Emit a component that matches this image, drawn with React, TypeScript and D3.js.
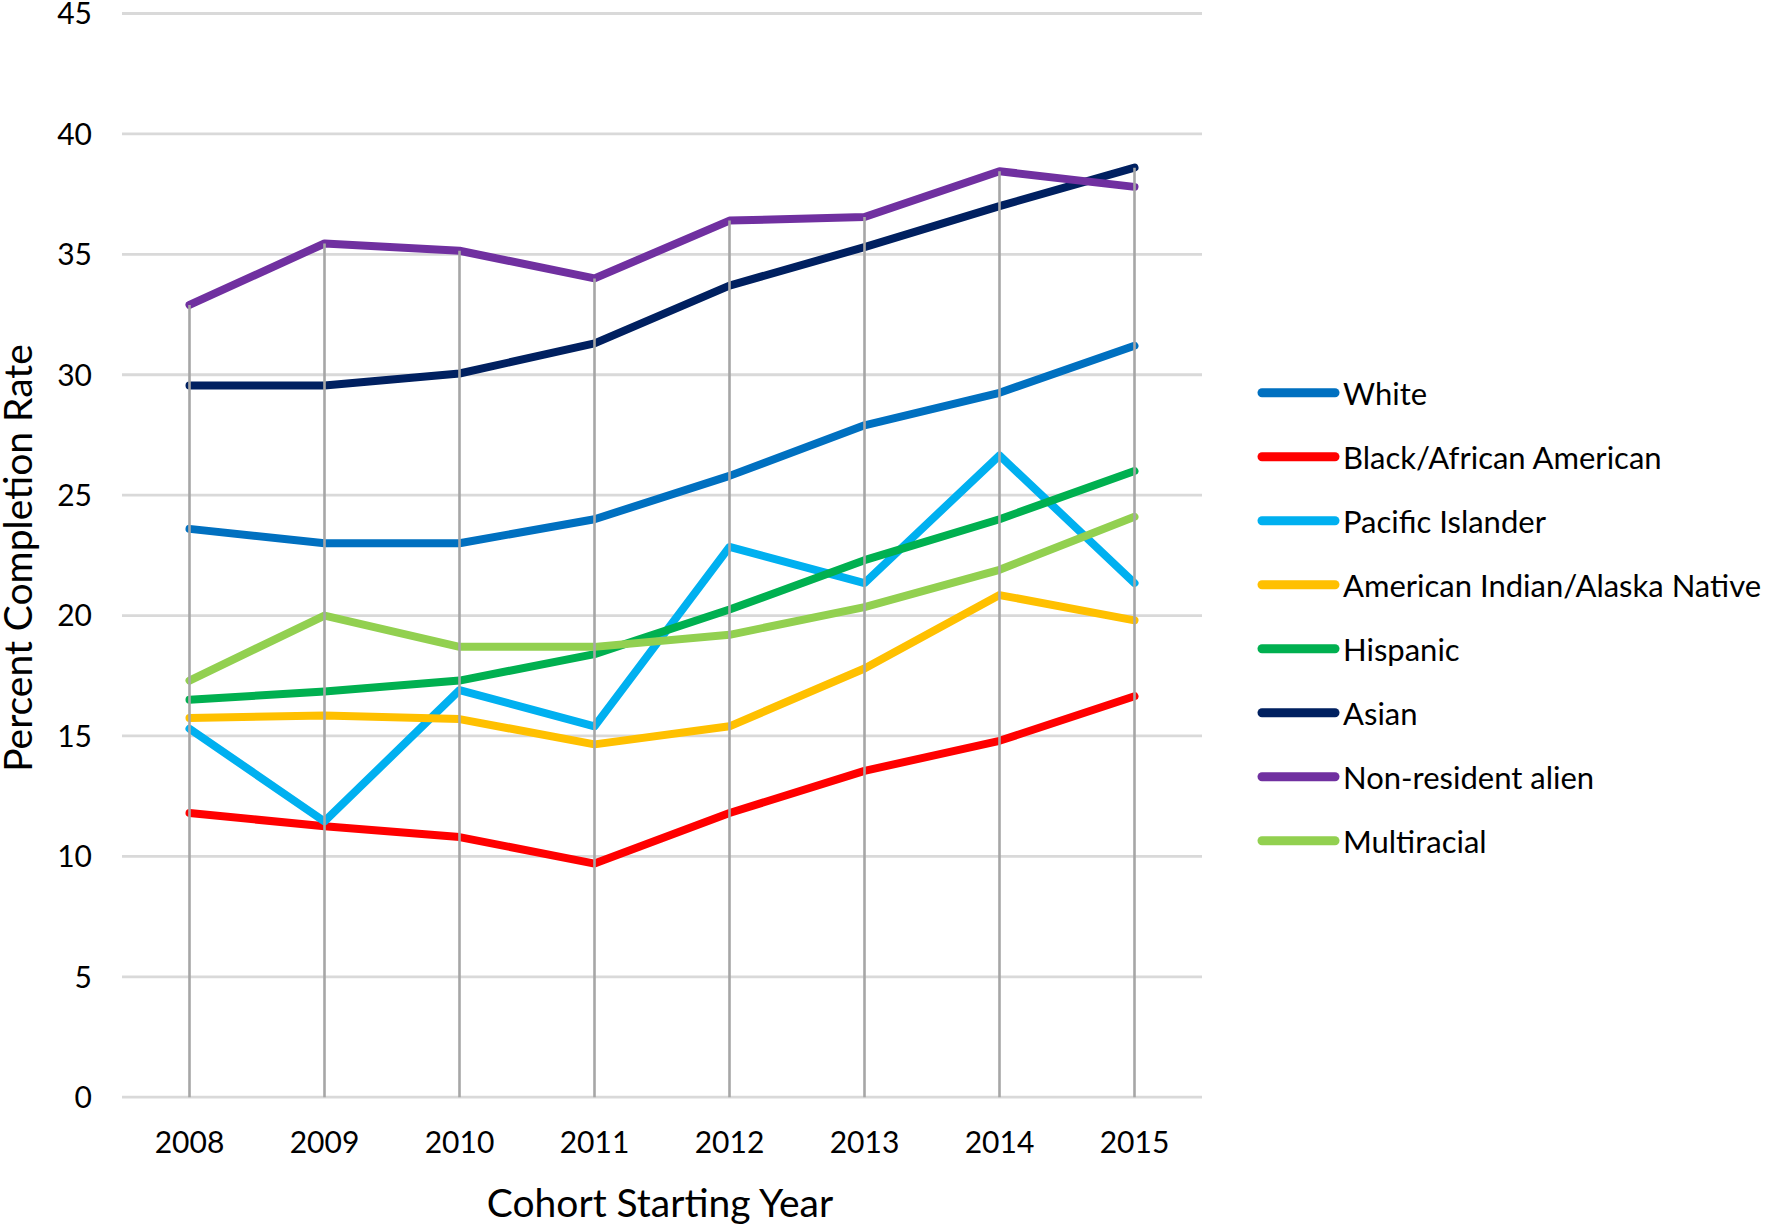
import React from "react";
import * as d3 from "d3";

const years = ["2008", "2009", "2010", "2011", "2012", "2013", "2014", "2015"];
const yTicks = [0, 5, 10, 15, 20, 25, 30, 35, 40, 45];

const white = [23.6, 23.0, 23.0, 24.0, 25.8, 27.9, 29.25, 31.2];
const black = [11.8, 11.25, 10.8, 9.7, 11.8, 13.55, 14.8, 16.65];
const pacific = [15.3, 11.45, 16.9, 15.4, 22.85, 21.35, 26.65, 21.35];
const amIndian = [15.75, 15.85, 15.7, 14.65, 15.4, 17.8, 20.85, 19.8];
const hispanic = [16.5, 16.85, 17.3, 18.4, 20.25, 22.3, 24.0, 26.0];
const asian = [29.55, 29.55, 30.05, 31.3, 33.7, 35.3, 37.0, 38.6];
const nonResident = [32.9, 35.45, 35.15, 34.0, 36.4, 36.55, 38.45, 37.8];
const multiracial = [17.3, 20.0, 18.7, 18.7, 19.2, 20.35, 21.9, 24.1];

const seriesNames = [
  "White",
  "Black/African American",
  "Pacific Islander",
  "American Indian/Alaska Native",
  "Hispanic",
  "Asian",
  "Non-resident alien",
  "Multiracial",
];
const seriesValues = [white, black, pacific, amIndian, hispanic, asian, nonResident, multiracial];
const seriesColors = ["#0070C0", "#FF0000", "#00B0F0", "#FFC000", "#00B050", "#002060", "#7030A0", "#92D050"];

const FONT = "Lato, 'Open Sans', sans-serif";

export default function App() {
  const W = 1770;
  const H = 1225;
  const left = 122;
  const right = 1202;
  const top = 13.5;
  const bottom = 1097.2;

  const x = d3.scalePoint<string>().domain(years).range([left, right]).padding(0.5);
  const y = d3.scaleLinear().domain([0, 45]).range([bottom, top]);

  const line = d3
    .line<number>()
    .x((_, i) => x(years[i]) as number)
    .y((d) => y(d));

  const maxes = years.map((_, i) => d3.max(seriesValues, (s) => s[i]) as number);

  const legendX1 = 1262;
  const legendX2 = 1335;
  const legendTextX = 1343;
  const legendY0 = 392.8;
  const legendStep = 64;

  return (
    <svg
      width={W}
      height={H}
      style={{ position: "absolute", left: 0, top: 0, background: "#fff" }}
      fontFamily={FONT}
    >
      <rect x={0} y={0} width={W} height={H} fill="#fff" />
      {/* gridlines */}
      {yTicks.map((t) => (
        <line key={t} x1={left} x2={right} y1={y(t)} y2={y(t)} stroke="#D9D9D9" strokeWidth={2.8} />
      ))}
      {/* y tick labels */}
      {yTicks.map((t) => (
        <text key={"yl" + t} x={92} y={y(t) + 10.8} textAnchor="end" fontSize={30} fill="#000">
          {t}
        </text>
      ))}
      {/* series */}
      {seriesValues.map((s, k) => (
        <path
          key={seriesNames[k]}
          d={line(s) as string}
          fill="none"
          stroke={seriesColors[k]}
          strokeWidth={8}
          strokeLinejoin="round"
          strokeLinecap="round"
        />
      ))}
      {/* drop lines */}
      {years.map((yr, i) => (
        <line
          key={"dl" + yr}
          x1={x(yr)}
          x2={x(yr)}
          y1={y(maxes[i])}
          y2={y(0)}
          stroke="#A6A6A6"
          strokeWidth={2.6}
        />
      ))}
      {/* x tick labels */}
      {years.map((yr) => (
        <text key={"xl" + yr} x={x(yr)} y={1153} textAnchor="middle" fontSize={30} fill="#000">
          {yr}
        </text>
      ))}
      {/* axis titles */}
      <text x={660} y={1217} textAnchor="middle" fontSize={39} fill="#000">
        Cohort Starting Year
      </text>
      <text
        transform={`translate(32, 558) rotate(-90)`}
        textAnchor="middle"
        fontSize={39}
        fill="#000"
      >
        Percent Completion Rate
      </text>
      {/* legend */}
      {seriesNames.map((n, k) => {
        const ly = legendY0 + k * legendStep;
        return (
          <g key={"lg" + n}>
            <line
              x1={legendX1}
              x2={legendX2}
              y1={ly}
              y2={ly}
              stroke={seriesColors[k]}
              strokeWidth={9}
              strokeLinecap="round"
            />
            <text x={legendTextX} y={ly + 12} fontSize={31} fill="#000">
              {n}
            </text>
          </g>
        );
      })}
    </svg>
  );
}
